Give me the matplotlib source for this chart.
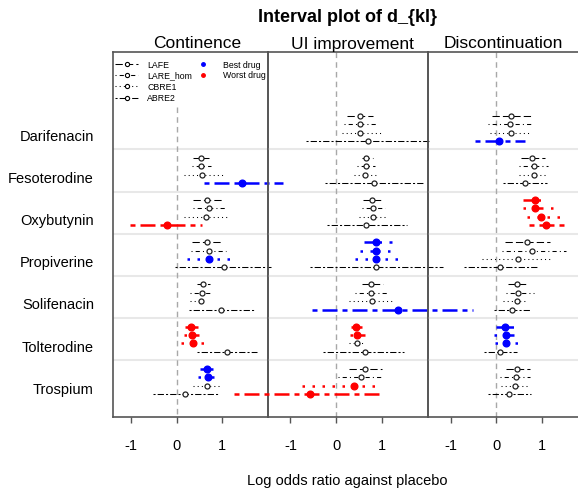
import numpy as np
import matplotlib
matplotlib.use("Agg")
import matplotlib.pyplot as plt

plt.rcParams['font.family'] = ['Liberation Sans', 'DejaVu Sans']
plt.rcParams['axes.unicode_minus'] = False

nan = np.nan

drugs = ["Darifenacin", "Fesoterodine", "Oxybutynin", "Propiverine",
         "Solifenacin", "Tolterodine", "Trospium"]
methods = ["LAFE", "LARE_hom", "CBRE1", "ABRE2"]
outcomes = ["Continence", "UI improvement", "Discontinuation"]

# Continence (no Darifenacin data)
est_con = [[nan, nan, nan, nan],
           [0.53, 0.53, 0.55, 1.44],
           [0.66, 0.70, 0.64, -0.21],
           [0.66, 0.70, 0.71, 1.04],
           [0.57, 0.55, 0.53, 0.98],
           [0.31, 0.33, 0.36, 1.11],
           [0.67, 0.69, 0.67, 0.18]]
lo_con = [[nan, nan, nan, nan],
          [0.36, 0.33, 0.16, 0.60],
          [0.35, 0.35, 0.16, -1.02],
          [0.33, 0.31, 0.23, -0.04],
          [0.45, 0.29, 0.29, 0.27],
          [0.18, 0.15, 0.09, 0.45],
          [0.50, 0.47, 0.36, -0.53]]
hi_con = [[nan, nan, nan, nan],
          [0.71, 0.74, 1.04, 2.33],
          [1.01, 1.08, 1.11, 0.55],
          [0.98, 1.08, 1.28, 2.06],
          [0.73, 0.73, 0.55, 1.69],
          [0.47, 0.49, 0.64, 1.75],
          [0.80, 0.82, 0.98, 0.93]]
col_con = ["kkkk", "kkkb", "kkkr", "kkbk", "kkkk", "rrrk", "bbkk"]

# UI improvement
est_ui = [[0.51, 0.52, 0.53, 0.69],
          [0.66, 0.66, 0.63, 0.82],
          [0.78, 0.80, 0.80, 0.66],
          [0.88, 0.88, 0.88, 0.88],
          [0.76, 0.76, 0.78, 1.36],
          [0.44, 0.46, 0.46, 0.63],
          [0.62, 0.55, 0.39, -0.58]]
lo_ui = [[0.23, 0.17, 0.12, -0.66],
         [0.57, 0.46, 0.39, -0.24],
         [0.58, 0.56, 0.49, -0.20],
         [0.60, 0.53, 0.42, -0.58],
         [0.56, 0.42, 0.29, -0.53],
         [0.33, 0.31, 0.27, -0.29],
         [0.27, 0.04, -0.75, -2.23]]
hi_ui = [[0.80, 0.87, 0.98, 2.05],
         [0.80, 0.85, 0.93, 1.89],
         [1.02, 1.06, 1.11, 1.55],
         [1.22, 1.29, 1.43, 2.33],
         [1.02, 1.11, 1.24, 3.00],
         [0.56, 0.63, 0.63, 1.49],
         [1.00, 0.98, 0.95, 1.00]]
col_ui = ["kkkk", "kkkk", "kkkk", "bbbk", "kkkb", "rrkk", "kkrr"]

# Discontinuation
est_dis = [[0.31, 0.29, 0.31, 0.06],
           [0.78, 0.82, 0.82, 0.63],
           [0.84, 0.85, 0.98, 1.09],
           [0.67, 0.78, 0.47, 0.07],
           [0.46, 0.47, 0.44, 0.33],
           [0.18, 0.20, 0.22, 0.07],
           [0.44, 0.42, 0.40, 0.28]]
lo_dis = [[-0.09, -0.18, -0.14, -0.46],
          [0.53, 0.49, 0.49, 0.15],
          [0.58, 0.57, 0.66, 0.71],
          [0.18, 0.12, -0.31, -0.71],
          [0.26, 0.20, 0.15, -0.05],
          [0.00, -0.05, -0.03, -0.27],
          [0.20, 0.07, 0.10, -0.18]]
hi_dis = [[0.76, 0.76, 0.73, 0.62],
          [1.06, 1.13, 1.11, 1.11],
          [1.11, 1.24, 1.38, 1.51],
          [1.17, 1.51, 1.22, 0.93],
          [0.69, 0.82, 0.69, 0.75],
          [0.41, 0.46, 0.49, 0.44],
          [0.73, 0.73, 0.73, 0.76]]
col_dis = ["kkkb", "kkkk", "rrrr", "kkkk", "kkkk", "bbbk", "kkkk"]

xticks = [-1, 0, 1]
xticklabels = ["-1", "0", "1"]

# line styles per method (R-like lty)
dash = [(0, (7, 3)), (0, (1, 3, 4, 3)), (0, (1, 3)), (0, (2, 2, 6, 2))]
cmap = {"k": "black", "b": "#0000FF", "r": "#FF0000"}

W, H = 578, 489
fig = plt.figure(figsize=(W / 100, H / 100), dpi=100)

top_px, bot_px = 52.7, 417.7
panels_px = [(113.3, 268.0, -1.39), (268.0, 427.7, -1.49), (427.7, 588.0, -1.50)]
ylim = (35.7, -7.6)

data = [(est_con, lo_con, hi_con, col_con),
        (est_ui, lo_ui, hi_ui, col_ui),
        (est_dis, lo_dis, hi_dis, col_dis)]

axes = []
for k, (x0, x1, xl) in enumerate(panels_px):
    ax = fig.add_axes([x0 / W, 1 - bot_px / H, (x1 - x0) / W, (bot_px - top_px) / H])
    ax.set_xlim(xl, 2.0)
    ax.set_ylim(*ylim)
    for sp in ax.spines.values():
        sp.set_color('#555555')
        sp.set_linewidth(1.2)
    ax.spines['right'].set_visible(k != 2)
    ax.set_xticks(xticks)
    ax.set_xticklabels(xticklabels, fontsize=10.5)
    ax.tick_params(axis='x', length=4, width=1, color='#555555', pad=11)
    ax.set_yticks([])
    ax.patch.set_alpha(0)
    # row separators
    for i in range(1, len(drugs)):
        ax.axhline(5 * i - 1, color='#e8e8e8', lw=1.5, zorder=0)
    # zero line
    ytop = -1.03 if k == 0 else ylim[1]
    ax.plot([0, 0], [ytop, ylim[0]], color='#a8a8a8', lw=1, ls=(0, (4, 3)), zorder=1)
    axes.append(ax)

for ax, (est, lo, hi, col) in zip(axes, data):
    for i in range(len(drugs)):
        for j in range(len(methods)):
            if np.isnan(est[i][j]):
                continue
            y = 5 * i + j
            c = cmap[col[i][j]]
            hl = col[i][j] != "k"
            ax.plot([lo[i][j], hi[i][j]], [y, y], color=c, ls=dash[j],
                    lw=1.8 if hl else 0.75, clip_on=False, zorder=3)
            if hl:
                ax.plot(est[i][j], y, 'o', color=c, ms=4.8, clip_on=False, zorder=4)
            else:
                ax.plot(est[i][j], y, 'o', mfc='white', mec='#222222', mew=0.9,
                        ms=3.6, clip_on=False, zorder=4)

# drug labels
axes[0].set_yticks([5 * i + 2.2 for i in range(len(drugs))])
axes[0].set_yticklabels(drugs, fontsize=10.5)
axes[0].tick_params(axis='y', length=0, pad=13.9)

# legend inside first panel
ax = axes[0]
leg_y = [-6.1, -4.85, -3.5, -2.15]
for j, name in enumerate(methods):
    ax.plot([-1.35, -0.84], [leg_y[j], leg_y[j]], color='black', ls=dash[j], lw=0.75)
    ax.plot(-1.09, leg_y[j], 'o', mfc='white', mec='black', mew=0.8, ms=3)
    ax.text(-0.65, leg_y[j], name, fontsize=6.3, va='center', ha='left')
for j, (name, c) in enumerate([("Best drug", "b"), ("Worst drug", "r")]):
    ax.plot(0.58, leg_y[j], 'o', color=cmap[c], ms=2.5)
    ax.text(1.01, leg_y[j], name, fontsize=6.3, va='center', ha='left')

fig.text(347.4 / W, 1 - 17 / H, "Interval plot of d_{kl}", fontsize=13,
         fontweight='bold', ha='center', va='center')
for name, xc in zip(outcomes, [197.2, 352.0, 503.0]):
    fig.text(xc / W, 1 - 44 / H, name, fontsize=12.5, ha='center', va='center')
fig.text(347.5 / W, 1 - 481 / H, "Log odds ratio against placebo",
         fontsize=10.5, ha='center', va='center')

fig.savefig("out.png", dpi=100)
